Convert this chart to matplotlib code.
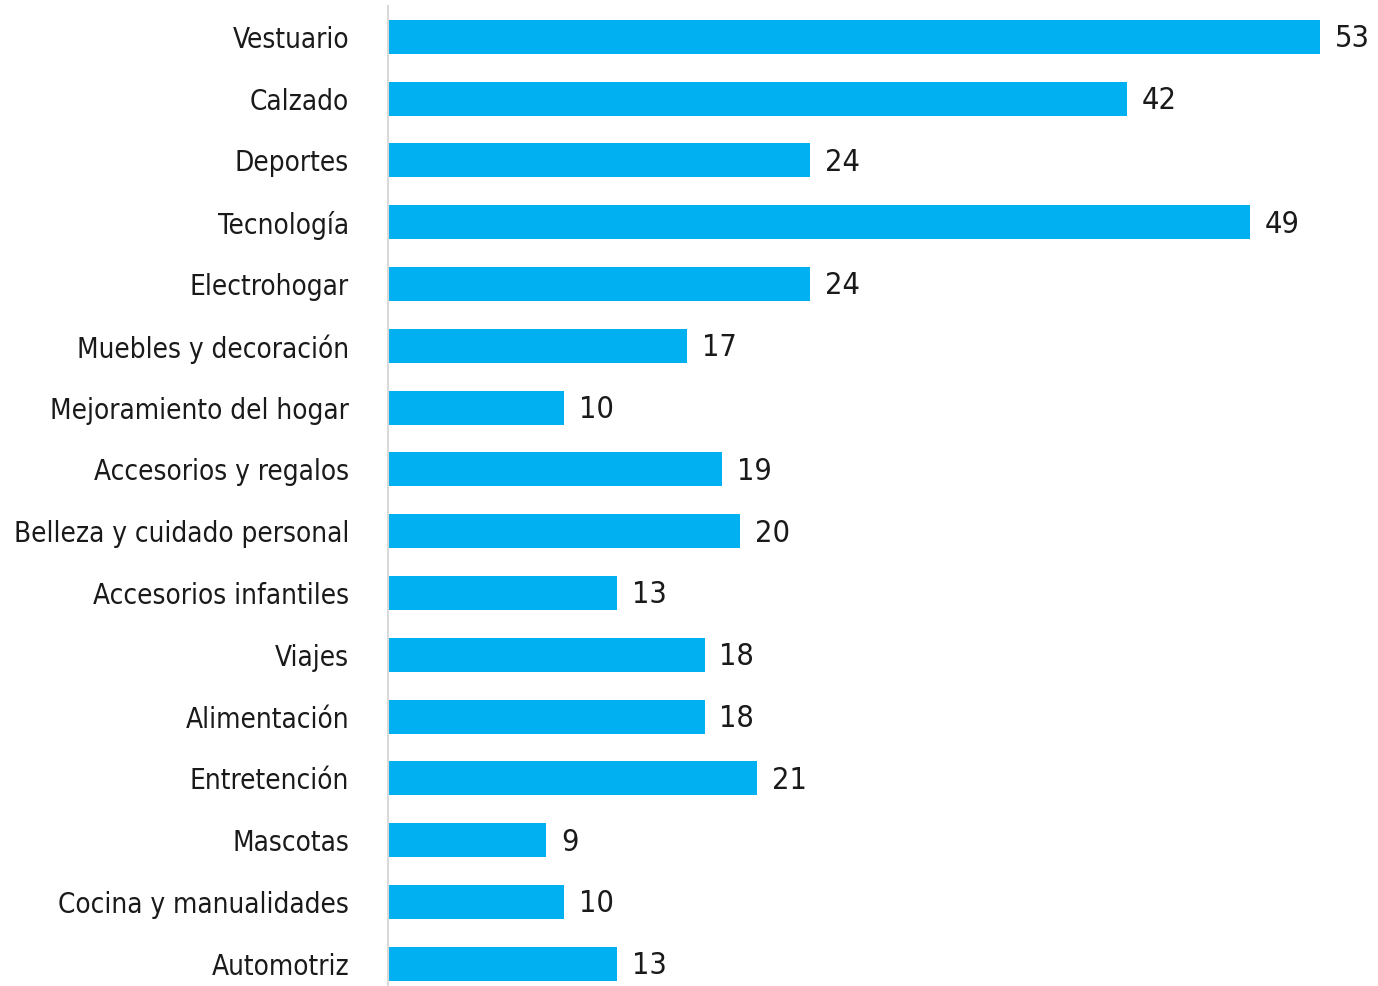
import matplotlib.pyplot as plt

categories = ["Vestuario", "Calzado", "Deportes", "Tecnología", "Electrohogar",
              "Muebles y decoración", "Mejoramiento del hogar", "Accesorios y regalos",
              "Belleza y cuidado personal", "Accesorios infantiles", "Viajes",
              "Alimentación", "Entretención", "Mascotas", "Cocina y manualidades",
              "Automotriz"]
values = [53, 42, 24, 49, 24, 17, 10, 19, 20, 13, 18, 18, 21, 9, 10, 13]

plt.rcParams['font.family'] = ['DejaVu Sans']
plt.rcParams['font.stretch'] = 'condensed'

fig = plt.figure(figsize=(13.78, 9.86), dpi=100)
ax = fig.add_axes([388 / 1378, 0, 1 - 388 / 1378, 1 - 6 / 986])

y = list(range(len(categories)))
ax.barh(y, values, height=0.55, color="#00b0f0")
for yi, v in zip(y, values):
    ax.text(v + 0.85, yi + 0.03, str(v), va="center", ha="left", fontsize=22,
            color="#1a1a1a", fontstretch="condensed")

ax.set_yticks(y)
ax.set_yticklabels(categories, fontsize=20, color="#1a1a1a", fontstretch="condensed")
ax.tick_params(axis="y", length=0, pad=28)
ax.set_xticks([])
ax.set_xlim(0, 56.3)
ax.set_ylim(15.36, -0.5)
for s in ["top", "right", "bottom"]:
    ax.spines[s].set_visible(False)
ax.spines["left"].set_color("#d9d9d9")
ax.spines["left"].set_linewidth(1.5)

fig.savefig("out.png", dpi=100)
